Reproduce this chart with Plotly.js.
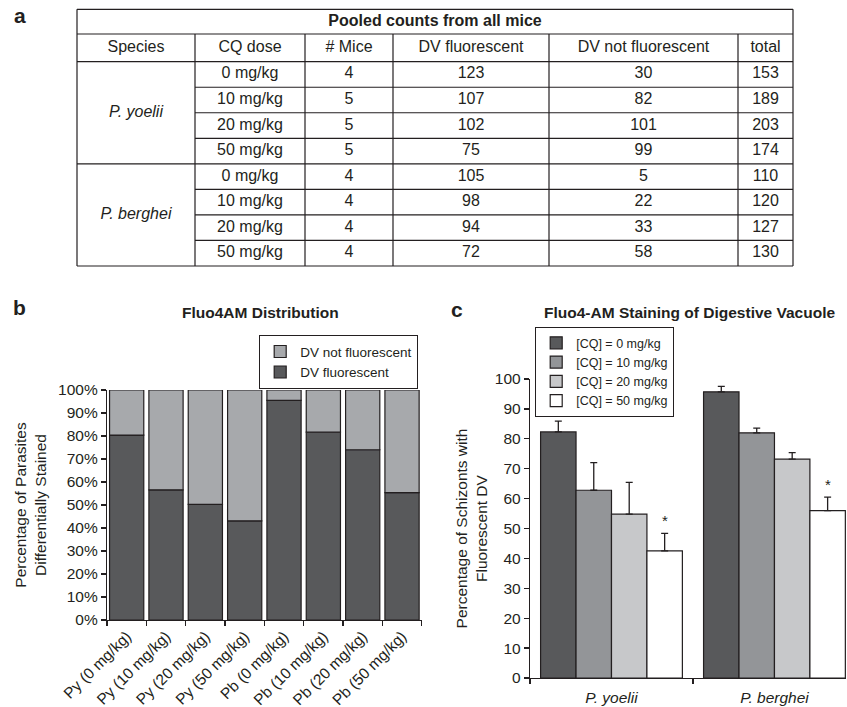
<!DOCTYPE html>
<html><head><meta charset="utf-8">
<script src="https://cdn.plot.ly/plotly-3.0.1.min.js"></script>
<style>html,body{margin:0;padding:0;background:#fff;overflow:hidden}#chart{width:847px;height:707px}</style>
</head><body><div id="chart"></div>
<script>
// ---------------- data ----------------
const tableTitle = 'Pooled counts from all mice';
const tableHeaders = ['Species', 'CQ dose', '# Mice', 'DV fluorescent', 'DV not fluorescent', 'total'];
const species = ['P. yoelii', 'P. berghei'];
const doses = ['0 mg/kg', '10 mg/kg', '20 mg/kg', '50 mg/kg'];
const rowDoses = ['0 mg/kg', '10 mg/kg', '20 mg/kg', '50 mg/kg', '0 mg/kg', '10 mg/kg', '20 mg/kg', '50 mg/kg'];
const mice = [4, 5, 5, 5, 4, 4, 4, 4];
const dvFluorescent = [123, 107, 102, 75, 105, 98, 94, 72];
const dvNotFluorescent = [30, 82, 101, 99, 5, 22, 33, 58];
const totals = [153, 189, 203, 174, 110, 120, 127, 130];

const stackCategories = ['Py (0 mg/kg)', 'Py (10 mg/kg)', 'Py (20 mg/kg)', 'Py (50 mg/kg)',
                         'Pb (0 mg/kg)', 'Pb (10 mg/kg)', 'Pb (20 mg/kg)', 'Pb (50 mg/kg)'];

const cqLabels = ['[CQ] = 0 mg/kg', '[CQ] = 10 mg/kg', '[CQ] = 20 mg/kg', '[CQ] = 50 mg/kg'];
const meanCQ0 = [82.3, 95.7];
const meanCQ10 = [62.8, 82.0];
const meanCQ20 = [54.8, 73.2];
const meanCQ50 = [42.5, 56.0];
const errCQ0 = [3.6, 1.8];
const errCQ10 = [9.2, 1.6];
const errCQ20 = [10.6, 2.2];
const errCQ50 = [5.9, 4.5];
const sigCQ50 = ['*', '*'];

// ---------------- styling / geometry ----------------
const W = 847, H = 707;
const px = x => x / W;
const py = y => 1 - y / H;
const INK = '#231f20';
const FONT = 'Liberation Sans, Arial, Helvetica, sans-serif';
const colorsB = ['#58595b', '#a7a9ac'];
const colorsC = ['#58595b', '#939598', '#c7c8ca', '#ffffff'];
const BARGAP = 0.13;

// table geometry (page pixels)
const colEdges = [77, 195, 305, 393, 549, 738, 793];
const rowTop = [9.3, 34, 61.7];
const dataTop = 61.7, dataBottom = 266, nRows = 8;
const rowH = (dataBottom - dataTop) / nRows;
const rowEdges = rowTop.concat(Array.from({length: nRows}, (_, i) => dataTop + (i + 1) * rowH));

// ---------------- derived values ----------------
const pctFluor = dvFluorescent.map((v, i) => v / totals[i] * 100);
const pctNotFluor = dvNotFluorescent.map((v, i) => v / totals[i] * 100);

// ---------------- table as text trace + line shapes ----------------
const colMid = i => (colEdges[i] + colEdges[i + 1]) / 2;
const rowMid = i => (rowEdges[i] + rowEdges[i + 1]) / 2;
const tx = [], ty = [], tt = [];
tx.push((colEdges[0] + colEdges[6]) / 2); ty.push(rowMid(0)); tt.push('<b>' + tableTitle + '</b>');
tableHeaders.forEach((h, c) => { tx.push(colMid(c)); ty.push(rowMid(1)); tt.push(h); });
for (let r = 0; r < nRows; r++) {
  const vals = [rowDoses[r], mice[r], dvFluorescent[r], dvNotFluorescent[r], totals[r]];
  vals.forEach((v, k) => { tx.push(colMid(k + 1)); ty.push(rowMid(r + 2)); tt.push(String(v)); });
}
species.forEach((s, g) => {
  tx.push(colMid(0)); ty.push((rowEdges[2 + g * 4] + rowEdges[6 + g * 4]) / 2); tt.push('<i>' + s + '</i>');
});

const shapes = [];
const hline = (y, x0, x1) => shapes.push({type: 'line', xref: 'x3', yref: 'y3', x0, x1, y0: y, y1: y, line: {color: INK, width: 1.2}});
const vline = (x, y0, y1) => shapes.push({type: 'line', xref: 'x3', yref: 'y3', x0: x, x1: x, y0, y1, line: {color: INK, width: 1.2}});
[0, 1, 2, 6, 10].forEach(i => hline(rowEdges[i], colEdges[0], colEdges[6]));
[3, 4, 5, 7, 8, 9].forEach(i => hline(rowEdges[i], colEdges[1], colEdges[6]));
vline(colEdges[0], rowEdges[0], rowEdges[10]);
vline(colEdges[6], rowEdges[0], rowEdges[10]);
[1, 2, 3, 4, 5].forEach(c => vline(colEdges[c], rowEdges[1], rowEdges[10]));

// ---------------- traces ----------------
const traces = [];
traces.push({
  type: 'scatter', mode: 'text', x: tx, y: ty, text: tt, xaxis: 'x3', yaxis: 'y3',
  textposition: 'middle center', textfont: {family: FONT, size: 16, color: INK},
  showlegend: false, hoverinfo: 'skip', cliponaxis: false
});

traces.push({
  type: 'bar', name: 'DV fluorescent', x: stackCategories, y: pctFluor,
  xaxis: 'x', yaxis: 'y', offsetgroup: 'stack', legend: 'legend',
  marker: {color: colorsB[0], line: {color: INK, width: 1.2}}, hoverinfo: 'skip'
});
traces.push({
  type: 'bar', name: 'DV not fluorescent', x: stackCategories, y: pctNotFluor, base: pctFluor,
  xaxis: 'x', yaxis: 'y', offsetgroup: 'stack', legend: 'legend',
  marker: {color: colorsB[1], line: {color: INK, width: 1.2}}, hoverinfo: 'skip'
});

const means = [meanCQ0, meanCQ10, meanCQ20, meanCQ50];
const errs = [errCQ0, errCQ10, errCQ20, errCQ50];
means.forEach((m, k) => {
  traces.push({
    type: 'bar', name: cqLabels[k], x: species, y: m, xaxis: 'x2', yaxis: 'y2', legend: 'legend2',
    marker: {color: colorsC[k], line: {color: INK, width: 1.2}},
    error_y: {type: 'data', symmetric: false, array: errs[k], arrayminus: m.map(() => 0),
              color: INK, thickness: 1.3, width: 3.5},
    hoverinfo: 'skip'
  });
});

// ---------------- annotations ----------------
const annotations = [];
const label = (t, x, y, size, bold) => annotations.push({
  text: bold ? '<b>' + t + '</b>' : t, xref: 'paper', yref: 'paper', x: px(x), y: py(y),
  xanchor: 'center', yanchor: 'middle', showarrow: false, font: {family: FONT, size, color: INK}
});
label('a', 20, 15.5, 21, true);
label('b', 19, 307.5, 21, true);
label('c', 457, 309.5, 21, true);
label('Fluo4AM Distribution', 260, 312, 15.5, true);
label('Fluo4-AM Staining of Digestive Vacuole', 689, 312, 15.5, true);

const barW = (1 - BARGAP) / means.length;
const off50 = (3 - (means.length - 1) / 2) * barW;
sigCQ50.forEach((s, g) => {
  annotations.push({
    text: s, xref: 'x2', yref: 'y2', x: g + off50, y: meanCQ50[g] + errCQ50[g],
    xanchor: 'center', yanchor: 'middle', yshift: 13, showarrow: false,
    font: {family: FONT, size: 15, color: INK}
  });
});

// ---------------- layout ----------------
const axisCommon = {
  showline: true, linecolor: INK, linewidth: 1.2, ticks: 'outside', ticklen: 5, tickwidth: 1.2,
  tickcolor: INK, showgrid: false, zeroline: false, fixedrange: true,
  tickfont: {family: FONT, size: 15.5, color: INK}
};

const layout = {
  width: W, height: H, margin: {l: 0, r: 0, t: 0, b: 0},
  paper_bgcolor: '#ffffff', plot_bgcolor: 'rgba(0,0,0,0)',
  font: {family: FONT, color: INK},
  barmode: 'group', bargap: BARGAP, bargroupgap: 0,
  xaxis: Object.assign({}, axisCommon, {
    domain: [px(107), px(421.7)], anchor: 'y', type: 'category', range: [-0.5, 7.5],
    tickson: 'boundaries', tickangle: -45
  }),
  yaxis: Object.assign({}, axisCommon, {
    domain: [py(620), py(390)], anchor: 'x', range: [0, 100], dtick: 10, ticksuffix: '%',
    title: {text: 'Percentage of Parasites<br>Differentially Stained', standoff: 7,
            font: {family: FONT, size: 15.5, color: INK}}
  }),
  xaxis2: Object.assign({}, axisCommon, {
    domain: [px(530), px(846)], anchor: 'y2', type: 'category', range: [-0.5, 1.439],
    tickson: 'boundaries', ticklabelstandoff: 5,
    tickfont: {family: FONT, size: 15.5, color: INK, style: 'italic'}
  }),
  yaxis2: Object.assign({}, axisCommon, {
    domain: [py(678), py(379)], anchor: 'x2', range: [0, 100], dtick: 10,
    title: {text: 'Percentage of Schizonts with<br>Fluorescent DV', standoff: 3,
            font: {family: FONT, size: 15.5, color: INK}}
  }),
  xaxis3: {domain: [px(70), px(800)], range: [70, 800], anchor: 'y3', visible: false, fixedrange: true},
  yaxis3: {domain: [py(272), py(3)], range: [272, 3], anchor: 'x3', visible: false, fixedrange: true},
  legend: {
    x: px(418), xanchor: 'right', y: py(335), yanchor: 'top', traceorder: 'reversed',
    bgcolor: '#ffffff', bordercolor: INK, borderwidth: 1.2,
    font: {family: FONT, size: 13.5, color: INK}
  },
  legend2: {
    x: px(535), xanchor: 'left', y: py(327), yanchor: 'top', traceorder: 'normal',
    bgcolor: '#ffffff', bordercolor: INK, borderwidth: 1.2,
    font: {family: FONT, size: 12.5, color: INK}
  },
  shapes, annotations
};

Plotly.newPlot('chart', traces, layout, {staticPlot: true, displayModeBar: false});
</script>
</body></html>
